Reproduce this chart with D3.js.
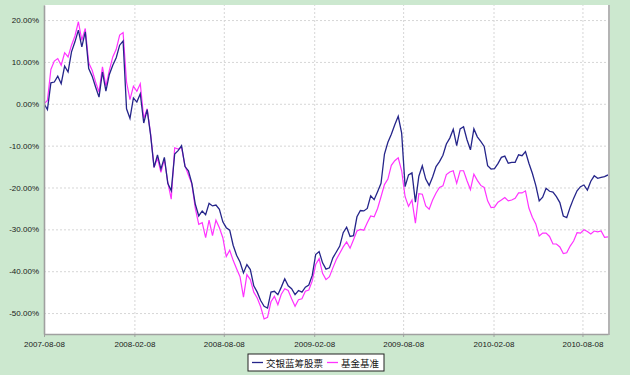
<!DOCTYPE html>
<html><head><meta charset="utf-8">
<script src="https://cdn.jsdelivr.net/npm/d3@7"></script>
<style>body{margin:0;background:#cce8cf;}svg{display:block}</style>
</head><body>
<svg id="c" width="630" height="375"></svg>
<script>
const dates = [
"2007-08-08","2007-08-15","2007-08-22","2007-08-29","2007-09-05","2007-09-12","2007-09-19","2007-09-26","2007-10-03","2007-10-10",
"2007-10-17","2007-10-24","2007-10-31","2007-11-07","2007-11-14","2007-11-21","2007-11-28","2007-12-05","2007-12-12","2007-12-19",
"2007-12-26","2008-01-02","2008-01-09","2008-01-16","2008-01-23","2008-01-30","2008-02-06","2008-02-13","2008-02-20","2008-02-27",
"2008-03-05","2008-03-12","2008-03-19","2008-03-26","2008-04-02","2008-04-09","2008-04-16","2008-04-23","2008-04-30","2008-05-07",
"2008-05-14","2008-05-21","2008-05-28","2008-06-04","2008-06-11","2008-06-18","2008-06-25","2008-07-02","2008-07-09","2008-07-16",
"2008-07-23","2008-07-30","2008-08-06","2008-08-13","2008-08-20","2008-08-27","2008-09-03","2008-09-10","2008-09-17","2008-09-24",
"2008-10-01","2008-10-08","2008-10-15","2008-10-22","2008-10-29","2008-11-05","2008-11-12","2008-11-19","2008-11-26","2008-12-03",
"2008-12-10","2008-12-17","2008-12-24","2008-12-31","2009-01-07","2009-01-14","2009-01-21","2009-01-28","2009-02-04","2009-02-11",
"2009-02-18","2009-02-25","2009-03-04","2009-03-11","2009-03-18","2009-03-25","2009-04-01","2009-04-08","2009-04-15","2009-04-22",
"2009-04-29","2009-05-06","2009-05-13","2009-05-20","2009-05-27","2009-06-03","2009-06-10","2009-06-17","2009-06-24","2009-07-01",
"2009-07-08","2009-07-15","2009-07-22","2009-07-29","2009-08-05","2009-08-12","2009-08-19","2009-08-26","2009-09-02","2009-09-09",
"2009-09-16","2009-09-23","2009-09-30","2009-10-07","2009-10-14","2009-10-21","2009-10-28","2009-11-04","2009-11-11","2009-11-18",
"2009-11-25","2009-12-02","2009-12-09","2009-12-16","2009-12-23","2009-12-30","2010-01-06","2010-01-13","2010-01-20","2010-01-27",
"2010-02-03","2010-02-10","2010-02-17","2010-02-24","2010-03-03","2010-03-10","2010-03-17","2010-03-24","2010-03-31","2010-04-07",
"2010-04-14","2010-04-21","2010-04-28","2010-05-05","2010-05-12","2010-05-19","2010-05-26","2010-06-02","2010-06-09","2010-06-16",
"2010-06-23","2010-06-30","2010-07-07","2010-07-14","2010-07-21","2010-07-28","2010-08-04","2010-08-11","2010-08-18","2010-08-25",
"2010-09-01","2010-09-08","2010-09-15","2010-09-22","2010-09-29"
];
const fund = [
0,-1.4,5.0,5.2,6.6,4.8,9.0,7.6,12.4,14.8,
17.6,13.6,17.2,8.4,6.6,4.0,1.6,7.6,3.0,7.0,
9.2,11.0,14.0,15.0,-1.2,-3.5,1.4,0.4,2.4,-4.6,
-1.4,-7.5,-15.2,-12.2,-15.6,-12.8,-19.0,-20.8,-12.0,-11.2,
-10.0,-15.0,-16.0,-19.0,-24.0,-26.8,-25.6,-26.5,-23.8,-24.4,
-24.2,-25.2,-28.2,-29.6,-30.2,-33.8,-36.2,-37.8,-40.4,-38.4,
-39.6,-43.5,-45.0,-47.0,-48.4,-48.8,-45.0,-44.8,-45.6,-43.8,
-41.8,-43.5,-44.2,-45.6,-44.6,-45.0,-43.8,-43.3,-41.0,-36.0,
-35.3,-38.0,-39.5,-39.2,-36.8,-35.4,-34.0,-30.8,-29.5,-31.7,
-31.5,-27.0,-25.5,-25.6,-25.0,-22.0,-22.9,-21.0,-19.0,-12.0,
-9.2,-7.3,-5.0,-3.0,-7.0,-19.8,-17.0,-16.5,-23.5,-17.3,
-14.8,-18.0,-19.5,-17.5,-15.0,-13.8,-12.3,-9.6,-8.2,-6.1,
-10.0,-6.0,-5.5,-8.6,-11.0,-6.0,-7.9,-9.0,-10.2,-14.8,
-15.6,-15.5,-14.3,-12.8,-12.5,-14.2,-14.0,-14.0,-12.2,-12.4,
-11.4,-14.2,-16.6,-19.5,-23.2,-22.3,-20.2,-20.9,-21.1,-22.2,
-23.6,-26.8,-27.2,-24.7,-22.6,-20.8,-19.8,-19.4,-20.6,-18.5,
-17.2,-17.8,-17.6,-17.4,-17.0
];
const bench = [
0,0.8,8.2,10.2,10.8,9.2,12.2,11.2,14.0,16.2,
19.6,15.2,18.0,9.8,8.0,5.2,2.8,8.8,4.2,8.0,
11.2,13.0,16.4,17.0,5.2,1.0,4.2,3.0,4.8,-3.5,
-1.2,-7.2,-15.2,-13.0,-16.4,-13.2,-18.8,-22.8,-10.5,-10.8,
-10.4,-14.8,-17.0,-19.2,-25.0,-28.8,-28.4,-32.0,-27.8,-31.5,
-27.8,-29.6,-32.0,-36.5,-35.0,-37.4,-39.4,-41.3,-46.2,-40.8,
-42.0,-45.0,-46.4,-48.5,-51.4,-51.0,-47.3,-46.0,-48.0,-45.5,
-44.2,-44.6,-46.6,-48.4,-46.8,-46.6,-44.8,-44.5,-42.3,-38.4,
-37.0,-40.5,-42.0,-41.3,-39.2,-37.2,-35.7,-34.2,-33.0,-34.5,
-32.5,-30.4,-30.0,-30.2,-28.4,-26.8,-27.0,-25.0,-22.2,-19.3,
-18.0,-14.7,-13.6,-12.9,-16.0,-22.2,-24.5,-23.0,-28.5,-21.5,
-21.6,-24.4,-25.2,-23.0,-21.3,-20.0,-19.6,-16.9,-16.3,-16.0,
-19.0,-16.0,-16.0,-18.4,-20.5,-16.8,-18.3,-19.5,-20.0,-23.2,
-24.8,-24.7,-23.5,-23.0,-22.4,-23.2,-23.0,-22.6,-21.3,-21.3,
-20.8,-24.9,-27.1,-28.7,-31.6,-30.9,-30.9,-31.7,-33.5,-33.5,
-34.2,-35.8,-35.6,-34.0,-32.8,-30.8,-30.9,-30.1,-30.5,-31.1,
-30.4,-30.6,-30.4,-31.9,-31.8
];
const seriesNames = ["交银蓝筹股票", "基金基准"];
const yTickValues = [20, 10, 0, -10, -20, -30, -40, -50];
const xTickLabels = ["2007-08-08","2008-02-08","2008-08-08","2009-02-08","2009-08-08","2010-02-08","2010-08-08"];
const xDomainEnd = "2010-09-29";
const yDomain = [-55, 23.6];

const parse = d3.timeParse("%Y-%m-%d");
const svg = d3.select("#c");
const L = 44, R = 608, T = 5, B = 334;
const font = "'Liberation Sans', Arial, sans-serif";

svg.append("rect").attr("width", 630).attr("height", 375).attr("fill", "#cce8cf");
svg.append("rect").attr("x", L).attr("y", T).attr("width", R - L).attr("height", B - T).attr("fill", "#fff");

const x = d3.scaleTime().domain([parse(dates[0]), parse(xDomainEnd)]).range([L, R]);
const y = d3.scaleLinear().domain(yDomain).range([B, T]);

// grid
const gy = svg.append("g").attr("transform", `translate(${L},0)`)
  .call(d3.axisLeft(y).tickValues(yTickValues).tickSize(-(R - L)).tickFormat(""));
gy.select(".domain").remove();
gy.selectAll("line").attr("stroke", "#d6d6d6").attr("stroke-dasharray", "2,2");
const gx = svg.append("g").attr("transform", `translate(0,${B})`)
  .call(d3.axisBottom(x).tickValues(xTickLabels.map(parse)).tickSize(-(B - T)).tickFormat(""));
gx.select(".domain").remove();
gx.selectAll("line").attr("stroke", "#d6d6d6").attr("stroke-dasharray", "2,2");

// series
const rows = dates.map((d, i) => ({ d: parse(d), f: fund[i], b: bench[i] }));
const clip = svg.append("clipPath").attr("id", "pc").append("rect")
  .attr("x", L).attr("y", T).attr("width", R - L).attr("height", B - T);
const lineB = d3.line().x(r => x(r.d)).y(r => y(r.b));
const lineF = d3.line().x(r => x(r.d)).y(r => y(r.f));
svg.append("path").datum(rows).attr("d", lineB).attr("fill", "none")
  .attr("stroke", "#ff33ff").attr("stroke-width", 1.2).attr("clip-path", "url(#pc)");
svg.append("path").datum(rows).attr("d", lineF).attr("fill", "none")
  .attr("stroke", "#25258a").attr("stroke-width", 1.3).attr("clip-path", "url(#pc)");

// right border
svg.append("line").attr("x1", R + 1).attr("x2", R + 1).attr("y1", T).attr("y2", B + 1)
  .attr("stroke", "#b4b4b4").attr("stroke-width", 2);

// axes
const ay = svg.append("g").attr("transform", `translate(${L},0)`)
  .call(d3.axisLeft(y).tickValues(yTickValues).tickSize(0).tickPadding(5)
    .tickFormat(d => d.toFixed(2) + "%"));
ay.select(".domain").attr("stroke", "#a0a0a0").attr("stroke-width", 1.6);
ay.selectAll("text").attr("font-family", font).attr("font-size", 8).attr("fill", "#1a1a1a");

const ax = svg.append("g").attr("transform", `translate(0,${B})`)
  .call(d3.axisBottom(x).tickValues(xTickLabels.map(parse)).tickSize(3).tickSizeOuter(0)
    .tickFormat(d3.timeFormat("%Y-%m-%d")));
ax.select(".domain").attr("stroke", "#a0a0a0").attr("stroke-width", 1.6);
ax.selectAll("line").attr("stroke", "#a0a0a0");
ax.selectAll("text").attr("font-family", font).attr("font-size", 8).attr("fill", "#1a1a1a")
  .attr("y", 13).attr("dy", 0);

// legend
const lg = svg.append("g");
lg.append("rect").attr("x", 248).attr("y", 354).attr("width", 136).attr("height", 17)
  .attr("fill", "#fff").attr("stroke", "#222").attr("stroke-width", 1);
const items = [
  { name: seriesNames[0], color: "#25258a", x0: 252 },
  { name: seriesNames[1], color: "#ff33ff", x0: 327 }
];
items.forEach(it => {
  lg.append("line").attr("x1", it.x0).attr("x2", it.x0 + 11).attr("y1", 362.5).attr("y2", 362.5)
    .attr("stroke", it.color).attr("stroke-width", 1.3);
  lg.append("text").attr("x", it.x0 + 14).attr("y", 366.5).text(it.name)
    .attr("font-family", "'Noto Sans CJK SC', sans-serif").attr("font-size", 9.5).attr("fill", "#111");
});
</script>
</body></html>
